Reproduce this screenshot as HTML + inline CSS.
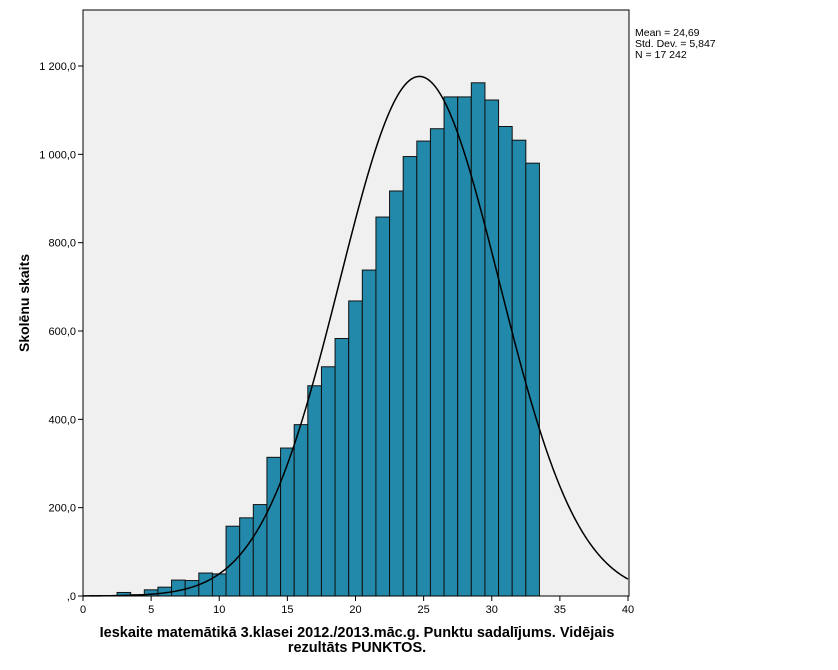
<!DOCTYPE html>
<html><head><meta charset="utf-8"><style>
body{margin:0;background:#fff;width:838px;height:670px;overflow:hidden}
svg{display:block;font-family:"Liberation Sans",Arial,sans-serif}
</style></head><body>
<svg id="s" width="838" height="670" xmlns="http://www.w3.org/2000/svg">
<rect x="83" y="10" width="546" height="586" fill="#f0f0f0" stroke="#000" stroke-width="1"/>
<g id="bars"></g>
<path id="curve" fill="none" stroke="#000" stroke-width="1.5"/>
<line x1="83" y1="10" x2="83" y2="596" stroke="#000"/>
<line x1="83" y1="596" x2="629" y2="596" stroke="#000"/>
<g id="ticks" font-size="11" fill="#000"></g>
<text x="635" y="36" font-size="10.5">Mean = 24,69</text>
<text x="635" y="47" font-size="10.5">Std. Dev. = 5,847</text>
<text x="635" y="58" font-size="10.5">N = 17 242</text>
<text transform="translate(29,303) rotate(-90)" text-anchor="middle" font-size="14" font-weight="bold">Skolēnu skaits</text>
<text x="357" y="637" text-anchor="middle" font-size="14.5" font-weight="bold">Ieskaite matemātikā 3.klasei 2012./2013.māc.g. Punktu sadalījums. Vidējais</text>
<text x="357" y="652" text-anchor="middle" font-size="14.5" font-weight="bold">rezultāts PUNKTOS.</text>
</svg>
<script>
var X=function(v){return 83+v*13.625},Y=function(v){return 596-v*530/1200};
var h={1:1,2:1,3:8,4:3,5:14,6:20,7:36,8:35,9:52,10:50,11:158,12:177,13:207,14:314,15:335,16:388,17:476,18:519,19:583,20:668,21:738,22:858,23:917,24:995,25:1030,26:1058,27:1130,28:1130,29:1162,30:1123,31:1063,32:1032,33:980};
var g='';for(var k in h){var x0=X(k-0.5),y0=Y(h[k]);g+='<rect x="'+x0+'" y="'+y0+'" width="13.625" height="'+(596-y0)+'" fill="#2389aa" stroke="#111" stroke-width="1"/>';}
document.getElementById('bars').innerHTML=g;
var d='';for(var i=0;i<=400;i++){var v=i/10,z=(v-24.69)/5.847,y=1176.4*Math.exp(-z*z/2);d+=(i?'L':'M')+X(v).toFixed(2)+','+Y(y).toFixed(2);}
document.getElementById('curve').setAttribute('d',d);
var t='';for(var v=0;v<=40;v+=5){t+='<line x1="'+X(v)+'" y1="596" x2="'+X(v)+'" y2="601" stroke="#000"/><text x="'+X(v)+'" y="613" text-anchor="middle">'+v+'</text>';}
var lab=[',0','200,0','400,0','600,0','800,0','1 000,0','1 200,0'];
for(var j=0;j<7;j++){var y=Y(j*200);t+='<line x1="78" y1="'+y+'" x2="83" y2="'+y+'" stroke="#000"/><text x="76" y="'+(y+4)+'" text-anchor="end">'+lab[j]+'</text>';}
document.getElementById('ticks').innerHTML=t;
</script>
</body></html>
